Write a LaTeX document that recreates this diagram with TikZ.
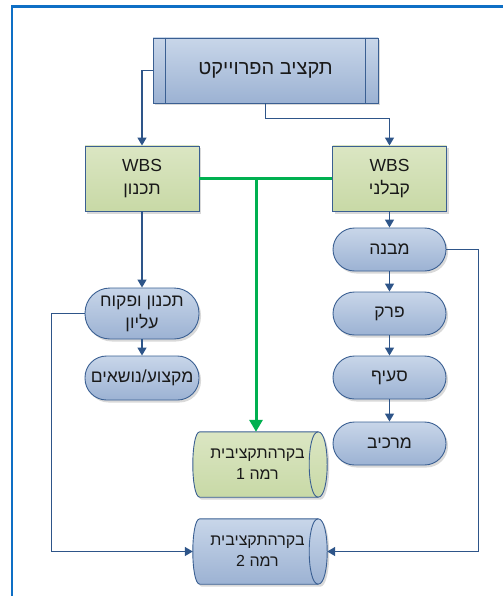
\documentclass[tikz,border=0pt]{standalone}
\usepackage{fontspec}
\setmainfont{Liberation Sans}
\newfontfamily\heb[Script=Hebrew]{Liberation Sans}
\TeXXeTstate=1
\usetikzlibrary{shadows,arrows.meta,calc,backgrounds}
\definecolor{bluetop}{HTML}{C8D6E9}
\definecolor{bluebot}{HTML}{9CB2D3}
\definecolor{greentop}{HTML}{DBE6C3}
\definecolor{greenbot}{HTML}{C8D9A6}
\definecolor{edgec}{HTML}{3A5F92}
\definecolor{connc}{HTML}{2E5589}
\definecolor{wbsgreen}{HTML}{00B050}
\definecolor{framec}{HTML}{0E6FC5}
\newcommand\hebline[1]{\beginR#1\endR}
\newcommand\cylline[1]{\beginR#1\endR\kern5pt}
\newcommand\cylbody[3]{%
  \begin{pgfonlayer}{background}
  \path[draw=edgec, line width=0.9pt, top color=#2, bottom color=#3,
        drop shadow={shadow xshift=2pt,shadow yshift=-2.5pt,opacity=0.3}]
    let \p1=(#1.north west), \p2=(#1.south east) in
    (\x1+7pt,\y1) -- (\x2-9pt,\y1)
    .. controls (\x2+3pt,\y1) and (\x2+3pt,\y2) .. (\x2-9pt,\y2)
    -- (\x1+7pt,\y2)
    .. controls (\x1-2.33pt,\y2) and (\x1-2.33pt,\y1) .. (\x1+7pt,\y1) -- cycle;
  \draw[edgec, line width=0.9pt]
    let \p1=(#1.north west), \p2=(#1.south east) in
    (\x2-9pt,\y1) .. controls (\x2-21pt,\y1) and (\x2-21pt,\y2) .. (\x2-9pt,\y2);
  \end{pgfonlayer}}
\begin{document}
\begin{tikzpicture}[x=1pt,y=-1pt,
  box/.style={draw=edgec, line width=0.9pt, top color=bluetop, bottom color=bluebot,
    inner sep=0pt, align=center, text=black!90,
    font=\heb\fontsize{17.5}{23}\selectfont,
    drop shadow={shadow xshift=2pt,shadow yshift=-2.5pt,opacity=0.3}},
  greenbox/.style={box, top color=greentop, bottom color=greenbot,
    minimum width=114pt, minimum height=65pt},
  pill/.style={box, rounded corners=21.5pt, minimum width=113pt, minimum height=43pt},
  cyltext/.style={inner sep=0pt, align=center, text=black!90,
    minimum width=134pt, minimum height=65pt,
    font=\heb\fontsize{16}{21}\selectfont},
  conn/.style={draw=connc, line width=1.4pt, -{Triangle[width=9pt,length=8pt]}},
  greenline/.style={draw=wbsgreen, line width=3pt},
]
\useasboundingbox (0,0) rectangle (503,596);
\draw[framec, line width=2.2pt] (12,596) -- (12,6.5) -- (503,6.5);

% top box
\node[box, minimum width=225pt, minimum height=65pt,
      font=\heb\fontsize{20}{22}\selectfont] (top) at (265.5,70.5) {\hebline{תקציב הפרוייקט}};
\draw[edgec, line width=0.9pt] ($(top.north west)+(13,0)$) -- ($(top.south west)+(13,0)$);
\draw[edgec, line width=0.9pt] ($(top.north east)+(-13,0)$) -- ($(top.south east)+(-13,0)$);

% WBS boxes
\node[greenbox] (wbsL) at (142,178.5) {WBS\\\hebline{תכנון}};
\node[greenbox] (wbsR) at (389.5,178.5) {WBS\\\hebline{קבלני}};

% left column
\node[pill, minimum width=114pt, minimum height=51pt, rounded corners=25pt,
      font=\heb\fontsize{17.5}{22}\selectfont] (plan) at (142,313.5)
      {\hebline{תכנון ופקוח}\\\hebline{עליון}};
\node[pill, minimum width=114pt, minimum height=44pt] (prof) at (142,378) {\hebline{מקצוע/נושאים}};

% right column
\node[pill] (mivne) at (389.5,249.5) {\hebline{מבנה}};
\node[pill] (perek) at (389.5,313.5) {\hebline{פרק}};
\node[pill] (seif) at (389.5,377.5) {\hebline{סעיף}};
\node[pill] (merkiv) at (389.5,443.5) {\hebline{מרכיב}};

% cylinders
\node[cyltext] (cyl1) at (260,464.5) {\cylline{בקרהתקציבית}\\\cylline{רמה 1}};
\cylbody{cyl1}{greentop}{greenbot}
\node[cyltext] (cyl2) at (260,551.5) {\cylline{בקרהתקציבית}\\\cylline{רמה 2}};
\cylbody{cyl2}{bluetop}{bluebot}

% connectors
\draw[conn] (top.west) -| (wbsL.north);
\draw[conn] (top.south) -- ++(0,15) -| (wbsR.north);
\draw[conn] (wbsL.south) -- (plan.north);
\draw[conn] (plan.south) -- (prof.north);
\draw[conn] (wbsR.south) -- (mivne.north);
\draw[conn] (mivne.south) -- (perek.north);
\draw[conn] (perek.south) -- (seif.north);
\draw[conn] (seif.south) -- (merkiv.north);
\draw[conn] (plan.west) -- ++(-33,0) |- (cyl2.west);
\draw[conn] (mivne.east) -- ++(32,0) |- (cyl2.east);

% green links
\coordinate (gj) at (256,178.5);
\draw[greenline] (wbsL.east) -- (wbsR.west);
\draw[greenline, -{Triangle[width=13pt,length=12pt]}] (gj) -- (gj |- cyl1.north);
\end{tikzpicture}
\end{document}
